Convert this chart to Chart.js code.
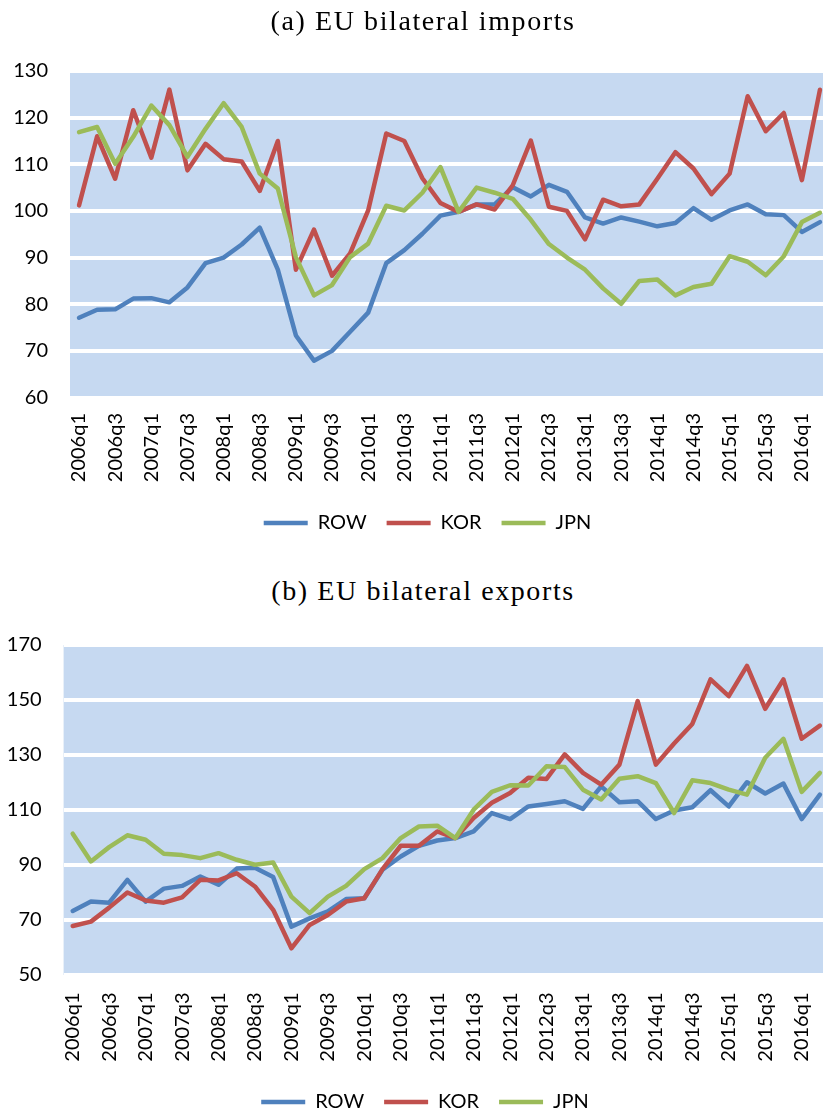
<!DOCTYPE html>
<html><head><meta charset="utf-8">
<script src="https://cdn.jsdelivr.net/npm/chart.js@4.4.1/dist/chart.umd.min.js"></script>
<style>
html,body{margin:0;padding:0;background:#fff;overflow:hidden;width:823px;height:1115px;position:relative}
.ttl{position:absolute;left:0;width:846px;text-align:center;font-family:"Liberation Serif",serif;font-size:28px;line-height:28px;letter-spacing:1.6px;color:#000;white-space:nowrap;z-index:2}
canvas{position:absolute;left:0}
</style></head><body>
<div class="ttl" style="top:6.5px">(a) EU bilateral imports</div>
<canvas id="c1" width="840" height="543" style="top:0"></canvas>
<div class="ttl" style="top:576.5px">(b) EU bilateral exports</div>
<canvas id="c2" width="840" height="512" style="top:610px"></canvas>
<script>
const quarters = ['2006q1','2006q2','2006q3','2006q4','2007q1','2007q2','2007q3','2007q4',
  '2008q1','2008q2','2008q3','2008q4','2009q1','2009q2','2009q3','2009q4',
  '2010q1','2010q2','2010q3','2010q4','2011q1','2011q2','2011q3','2011q4',
  '2012q1','2012q2','2012q3','2012q4','2013q1','2013q2','2013q3','2013q4',
  '2014q1','2014q2','2014q3','2014q4','2015q1','2015q2','2015q3','2015q4',
  '2016q1','2016q2'];
const seriesNames = ['ROW','KOR','JPN'];
const seriesColors = ['#4F81BD','#C0504D','#9BBB59'];

const importsROW = [77.1,78.8,78.9,81.2,81.3,80.4,83.6,88.8,90.0,92.8,96.4,87.4,73.3,67.9,70.0,74.1,78.2,88.8,91.6,95.1,99.0,99.8,101.4,101.4,105.1,103.1,105.6,104.1,98.6,97.3,98.6,97.7,96.7,97.4,100.6,98.1,100.1,101.4,99.3,99.1,95.5,97.6];
const importsKOR = [101.2,116.0,106.9,121.6,111.4,126.0,108.7,114.4,111.1,110.6,104.3,115.0,87.4,96.0,86.1,90.9,100.1,116.6,115.0,107.0,101.7,99.8,101.4,100.3,105.5,115.1,100.9,100.0,93.9,102.4,101.0,101.4,106.9,112.6,109.1,103.6,108.0,124.6,117.1,121.0,106.6,126.0];
const importsJPN = [116.9,118.0,110.1,115.9,122.6,118.4,111.6,117.6,123.1,118.0,108.0,104.8,90.1,81.9,84.1,90.1,93.0,101.1,100.1,103.9,109.4,99.8,105.0,103.9,102.6,98.1,92.9,90.0,87.4,83.4,80.1,85.0,85.3,81.9,83.7,84.4,90.3,89.1,86.2,90.3,97.6,99.6];

const exportsROW = [73.3,76.7,76.3,84.6,76.7,81.4,82.4,85.8,82.8,88.7,89.0,85.6,67.6,70.6,73.1,77.6,77.9,88.3,93.1,97.0,98.9,99.8,102.2,108.9,106.7,111.3,112.2,113.2,110.4,118.6,112.8,113.2,106.7,109.8,111.0,117.2,111.3,120.1,116.0,119.6,106.7,115.6];
const exportsKOR = [67.8,69.4,74.5,80.0,77.1,76.3,78.2,84.6,84.4,87.0,82.2,73.7,59.7,68.2,71.8,76.7,77.9,88.5,97.0,97.0,102.2,99.8,107.1,112.6,116.2,121.7,121.3,130.2,123.5,119.2,126.5,149.6,126.5,134.2,141.3,157.5,151.4,162.4,146.8,157.5,135.9,140.7];
const exportsJPN = [101.4,91.3,96.5,100.8,99.2,94.1,93.6,92.5,94.3,91.9,90.1,90.9,78.5,72.5,78.5,82.4,88.5,92.5,99.8,104.0,104.3,99.8,110.1,116.6,119.0,118.9,125.9,125.6,117.4,113.8,121.4,122.3,119.8,108.9,120.8,119.8,117.4,115.6,129.0,135.9,116.6,123.5];

const importTicks = [60,70,80,90,100,110,120,130];
const exportTicks = [50,70,90,110,130,150,170];

const plotBg = {
  id:'plotBg',
  beforeDraw(chart){
    const {ctx, chartArea:a} = chart;
    ctx.save();
    ctx.fillStyle = '#C6D9F1';
    ctx.fillRect(a.left, a.top, a.right - a.left, a.bottom - a.top);
    ctx.restore();
  }
};
const legendShift = {
  id:'legendShift',
  afterLayout(chart, args, opts){
    const l = chart.legend;
    if (l) { l.left += opts.dx; l.right += opts.dx; }
  }
};

function makeChart(id, series, yTicks, cfg){
  return new Chart(document.getElementById(id), {
    type:'line',
    data:{
      labels: quarters,
      datasets: series.map((v,i)=>({
        label: seriesNames[i], data: v,
        borderColor: seriesColors[i], backgroundColor: seriesColors[i],
        borderWidth: 4.5, pointRadius: 0, pointHoverRadius: 0, tension: 0,
        borderJoinStyle: 'round', borderCapStyle: 'round', fill: false,
        order: series.length - 1 - i
      }))
    },
    options:{
      responsive:false, animation:false, devicePixelRatio:1,
      layout:{padding:{top:cfg.padTop, right:11, left:0, bottom:0}},
      scales:{
        x:{
          offset:true,
          grid:{display:false, drawTicks:false},
          border:{display:false},
          ticks:{autoSkip:false, maxRotation:90, minRotation:90, padding:cfg.xPad, color:'#000',
                 font:{family:'Lato', size:20},
                 callback:(v,i)=> (i % 2 === 0 ? quarters[i] : '')},
          afterFit:(s)=>{ s.height = cfg.xHeight; s.paddingLeft = 0; s.paddingRight = 0; }
        },
        y:{
          min: yTicks[0], max: yTicks[yTicks.length-1],
          grid:{color:'#ffffff', lineWidth:4, drawTicks:false},
          border:{display:false},
          ticks:{stepSize: yTicks[1]-yTicks[0], padding:22, color:'#000', font:{family:'Lato', size:20}},
          afterFit:(s)=>{ s.width = cfg.yWidth; }
        }
      },
      plugins:{
        legend:{
          position:'bottom',
          labels:{usePointStyle:true, pointStyle:'line', pointStyleWidth:44, padding:20, color:'#000',
                  font:{family:'Lato', size:20},
                  sort:(a,b)=>a.datasetIndex - b.datasetIndex}
        },
        tooltip:{enabled:false},
        legendShift:{dx:cfg.dx}
      }
    },
    plugins:[plotBg, legendShift]
  });
}

makeChart('c1', [importsROW, importsKOR, importsJPN], importTicks,
  {padTop:71, xHeight:95.5, xPad:15.5, yWidth:70, dx:13});
makeChart('c2', [exportsROW, exportsKOR, exportsJPN], exportTicks,
  {padTop:35, xHeight:97, xPad:17.5, yWidth:63.6, dx:10.5});
</script>
</body></html>
